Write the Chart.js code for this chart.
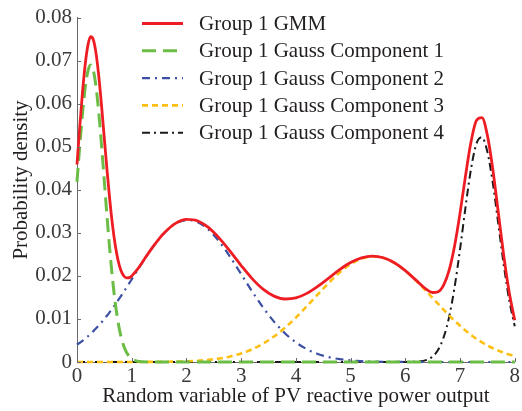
<!DOCTYPE html>
<html>
<head>
<meta charset="utf-8">
<script src="https://cdn.jsdelivr.net/npm/chart.js@4/dist/chart.umd.min.js"></script>
<style>
  html, body { margin: 0; padding: 0; background: #ffffff; }
  #wrap { width: 522px; height: 411px; position: relative; }
</style>
</head>
<body>
<div id="wrap"><canvas id="c" width="522" height="411"></canvas></div>
<script>
// ---- data ----
const xs = [0,0.05,0.1,0.15,0.2,0.25,0.3,0.35,0.4,0.45,0.5,0.55,0.6,0.65,0.7,0.75,0.8,0.85,0.9,0.95,1.0,
  1.1,1.2,1.3,1.4,1.5,1.6,
  1.8,2.0,2.2,2.4,2.6,2.8,3.0,3.2,3.4,3.6,3.8,4.0,4.2,4.4,4.6,4.8,5.0,5.2,5.4,5.6,5.8,6.0,6.2,6.4,
  6.5,6.6,6.7,6.8,6.9,7.0,7.1,7.2,7.3,7.4,7.5,7.6,7.7,7.8,7.9,8.0];

const gmm = [0.04588,0.05457,0.06257,0.06914,0.07361,0.07555,0.07480,0.07152,0.06615,0.05933,0.05185,0.04438,0.03753,0.03167,0.02704,0.02365,0.02139,0.02009,0.01955,0.01957,0.01998,
  0.02144,0.02328,0.02518,0.02697,0.02862,0.03008,
  0.03221,0.03314,0.03281,0.03127,0.02877,0.02568,0.02241,0.01937,0.01693,0.01530,0.01463,0.01488,0.01594,0.01757,0.01950,0.02144,0.02309,0.02420,0.02460,0.02421,0.02305,0.02123,0.01895,0.01675,
  0.01614,0.01632,0.01785,0.02126,0.02692,0.03458,0.04323,0.05108,0.05611,0.05676,0.05264,0.04468,0.03466,0.02462,0.01607,0.00970];

const comp1 = [0.04185,0.05010,0.05764,0.06370,0.06763,0.06900,0.06763,0.06370,0.05764,0.05010,0.04185,0.03359,0.02590,0.01918,0.01366,0.00934,0.00614,0.00387,0.00235,0.00137,0.00077,
  0.00021,0.00005,0.00001,0,0,0,
  0,0,0,0,0,0,0,0,0,0,0,0,0,0,0,0,0,0,0,0,0,0,0,0,
  0,0,0,0,0,0,0,0,0,0,0,0,0,0,0,0];

const comp2 = [0.00403,0.00447,0.00493,0.00544,0.00598,0.00655,0.00717,0.00782,0.00851,0.00923,0.01000,0.01079,0.01163,0.01249,0.01338,0.01431,0.01525,0.01622,0.01720,0.01820,0.01921,
  0.02123,0.02322,0.02515,0.02695,0.02859,0.03003,
  0.03212,0.03298,0.03252,0.03078,0.02796,0.02439,0.02042,0.01641,0.01267,0.00938,0.00667,0.00456,0.00299,0.00188,0.00113,0.00066,0.00037,0.00020,0.00010,0.00005,0.00002,0.00001,0,0,
  0,0,0,0,0,0,0,0,0,0,0,0,0,0,0,0];

const comp3 = [0,0,0,0,0,0,0,0,0,0,0,0,0,0,0,0,0,0,0,0,0,
  0,0.00001,0.00002,0.00002,0.00003,0.00005,
  0.00009,0.00016,0.00029,0.00049,0.00081,0.00129,0.00199,0.00296,0.00426,0.00592,0.00796,0.01032,0.01295,0.01569,0.01837,0.02078,0.02272,0.02400,0.02450,0.02416,0.02303,0.02121,0.01888,0.01623,
  0.01486,0.01349,0.01214,0.01083,0.00958,0.00840,0.00731,0.00630,0.00539,0.00456,0.00383,0.00320,0.00264,0.00216,0.00175,0.00141];

const comp4 = [0,0,0,0,0,0,0,0,0,0,0,0,0,0,0,0,0,0,0,0,0,
  0,0,0,0,0,0,
  0,0,0,0,0,0,0,0,0,0,0,0,0,0,0,0,0,0,0,0,0,0.00001,0.00007,0.00052,
  0.00128,0.00283,0.00571,0.01043,0.01734,0.02618,0.03592,0.04478,0.05072,0.05220,0.04881,0.04148,0.03202,0.02246,0.01432,0.00829];

const seriesNames = ['Group 1 GMM','Group 1 Gauss Component 1','Group 1 Gauss Component 2','Group 1 Gauss Component 3','Group 1 Gauss Component 4'];
const xTicks = [0,1,2,3,4,5,6,7,8];
const xTickLabels = ['0','1','2','3','4','5','6','7','8'];
const yTicks = [0,0.01,0.02,0.03,0.04,0.05,0.06,0.07,0.08];
const yTickLabels = ['0','0.01','0.02','0.03','0.04','0.05','0.06','0.07','0.08'];
const xTitle = 'Random variable of PV reactive power output';
const yTitle = 'Probability density';

// ---- styles ----
const FONT = "'Liberation Serif', 'Times New Roman', serif";
const styles = [
  {color: '#ee1d24', width: 2.8, dash: []},
  {color: '#6cbd45', width: 3, dash: [14, 7]},
  {color: '#3b4fa3', width: 2.2, dash: [8, 5, 2, 5]},
  {color: '#fcbf12', width: 2.6, dash: [6, 4]},
  {color: '#1a1a1a', width: 2, dash: [8, 4, 2, 4]}
];
const allSeries = [gmm, comp1, comp2, comp3, comp4];

const datasets = allSeries.map((arr, i) => ({
  label: seriesNames[i],
  data: xs.map((x, k) => ({x: x, y: arr[k]})),
  borderColor: styles[i].color,
  borderWidth: styles[i].width,
  borderDash: styles[i].dash,
  pointRadius: 0,
  fill: false,
  cubicInterpolationMode: 'monotone',
  clip: 6
}));

const legendPlugin = {
  id: 'insideLegend',
  afterDraw(chart) {
    const ctx = chart.ctx;
    ctx.save();
    const x0 = 142, x1 = 183, tx = 199, y0 = 23.5, dy = 27.3;
    styles.forEach((s, i) => {
      const y = y0 + dy * i;
      ctx.beginPath();
      ctx.setLineDash(s.dash);
      ctx.strokeStyle = s.color;
      ctx.lineWidth = s.width;
      ctx.moveTo(x0, y);
      ctx.lineTo(x1, y);
      ctx.stroke();
      ctx.setLineDash([]);
      ctx.fillStyle = '#231f20';
      ctx.font = '21px ' + FONT;
      ctx.textBaseline = 'middle';
      ctx.textAlign = 'left';
      ctx.fillText(seriesNames[i], tx, y + 1);
    });
    ctx.restore();
  }
};

// y-axis title, placed slightly above the centre of the axis as in the reference
const yTitlePlugin = {
  id: 'yTitle',
  afterDraw(chart) {
    const ctx = chart.ctx;
    ctx.save();
    ctx.translate(21, 180);
    ctx.rotate(-Math.PI / 2);
    ctx.fillStyle = '#231f20';
    ctx.font = '21px ' + FONT;
    ctx.textAlign = 'center';
    ctx.textBaseline = 'middle';
    ctx.fillText(yTitle, 0, 0);
    ctx.restore();
  }
};

const innerTicks = {
  id: 'innerTicks',
  afterDraw(chart) {
    const ctx = chart.ctx;
    const xs_ = chart.scales.x, ys_ = chart.scales.y;
    const a = chart.chartArea;
    ctx.save();
    ctx.strokeStyle = '#6a6a6a';
    ctx.lineWidth = 1;
    ctx.beginPath();
    xTicks.forEach(v => {
      const px = Math.round(xs_.getPixelForValue(v)) + 0.5;
      ctx.moveTo(px, a.bottom);
      ctx.lineTo(px, a.bottom - 4);
    });
    yTicks.forEach(v => {
      const py = Math.round(ys_.getPixelForValue(v)) + 0.5;
      ctx.moveTo(a.left, py);
      ctx.lineTo(a.left + 4, py);
    });
    ctx.stroke();
    ctx.restore();
  }
};

new Chart(document.getElementById('c'), {
  type: 'line',
  data: {datasets: datasets},
  plugins: [legendPlugin, innerTicks, yTitlePlugin],
  options: {
    responsive: false,
    animation: false,
    events: [],
    layout: {padding: {top: 17, right: 5, left: 0, bottom: 0}},
    plugins: {legend: {display: false}, tooltip: {enabled: false}},
    scales: {
      x: {
        type: 'linear', min: 0, max: 8,
        afterFit: s => { s.height = 49; },
        afterBuildTicks: s => { s.ticks = xTicks.map(v => ({value: v})); },
        ticks: {
          callback: (v) => xTickLabels[xTicks.indexOf(v)],
          color: '#3a3a3a', font: {family: FONT, size: 21}, padding: 2, maxRotation: 0, autoSkip: false
        },
        grid: {drawOnChartArea: false, drawTicks: false},
        border: {display: true, color: '#6a6a6a', width: 1},
        title: {display: true, text: xTitle, color: '#231f20', font: {family: FONT, size: 21}, padding: {top: 0, bottom: 2}}
      },
      y: {
        type: 'linear', min: 0, max: 0.08,
        afterFit: s => { s.width = 77; },
        afterBuildTicks: s => { s.ticks = yTicks.map(v => ({value: v})); },
        ticks: {
          callback: (v) => { const i = yTicks.findIndex(t => Math.abs(t - v) < 1e-9); return yTickLabels[i]; },
          color: '#3a3a3a', font: {family: FONT, size: 21}, padding: 5, autoSkip: false
        },
        grid: {drawOnChartArea: false, drawTicks: false},
        border: {display: true, color: '#6a6a6a', width: 1},
        title: {display: false, text: yTitle}
      }
    }
  }
});
</script>
</body>
</html>
